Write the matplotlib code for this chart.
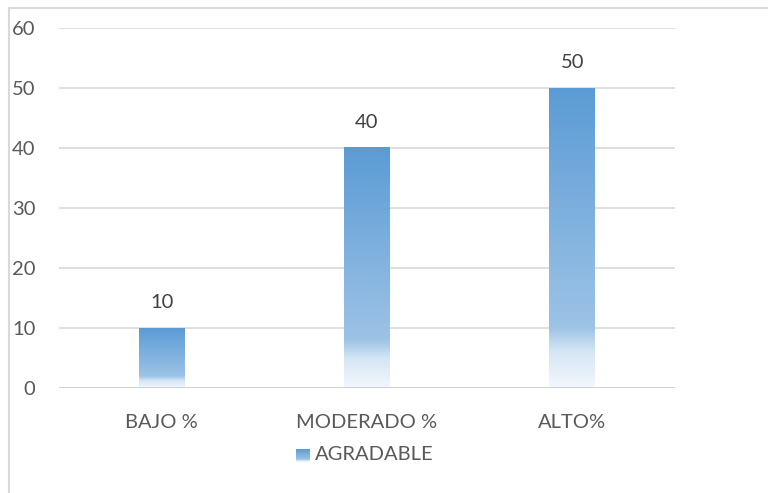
import numpy as np
import matplotlib
matplotlib.use("Agg")
import matplotlib.pyplot as plt
from matplotlib.colors import LinearSegmentedColormap
from matplotlib.patches import Rectangle

categories = ["BAJO %", "MODERADO %", "ALTO%"]
values = [10, 40, 50]
series_name = "AGRADABLE"
y_ticks = [0, 10, 20, 30, 40, 50, 60]

plt.rcParams["font.family"] = ["Lato", "DejaVu Sans"]
text_color = "#595959"

# excel-ish light gradient: blue at top fading to almost white at the base
grad = LinearSegmentedColormap.from_list(
    "bar_grad",
    [
        (0.0, "#f2f7fc"),
        (0.12, "#d6e6f5"),
        (0.20, "#9dc3e6"),
        (1.0, "#5b9bd5"),
    ],
)

fig = plt.figure(figsize=(7.68, 4.93), dpi=100)
ax = fig.add_axes([59 / 768, 1 - 388 / 493, 616 / 768, 360 / 493])

x = np.arange(len(categories))
bar_w = 0.224
gradient = np.linspace(0, 1, 256).reshape(-1, 1)

for xi, v in zip(x, values):
    ax.imshow(
        gradient,
        cmap=grad,
        origin="lower",
        aspect="auto",
        extent=(xi - bar_w / 2, xi + bar_w / 2, 0, v),
        zorder=3,
    )
    ax.text(
        xi, v + 4.2, str(v), ha="center", va="center",
        fontsize=14.5, color="#404040",
    )

ax.set_xlim(-0.5, len(categories) - 0.5)
ax.set_ylim(0, 60)
ax.set_yticks(y_ticks)
ax.set_xticks(x)
ax.set_xticklabels(categories)
ax.tick_params(length=0, labelsize=14.5, labelcolor=text_color)
ax.tick_params(axis="y", pad=17)
ax.tick_params(axis="x", pad=19)

ax.grid(axis="y", color="#d9d9d9", linewidth=1.2, zorder=0)
ax.set_axisbelow(True)
for name, spine in ax.spines.items():
    spine.set_visible(False)
ax.axhline(0, color="#d0d0d0", linewidth=1.4, zorder=4)

# legend: small gradient square plus label
leg_ax = fig.add_axes([296 / 768, 1 - 462 / 493, 14 / 768, 13 / 493])
leg_ax.imshow(gradient, cmap=grad, origin="lower", aspect="auto")
leg_ax.axis("off")
fig.text(315 / 768, 1 - 455 / 493, series_name, ha="left", va="center",
         fontsize=14.5, color=text_color)

# chart border
fig.patches.append(
    Rectangle((8.5 / 768, -0.1), 1.2, 1 - 7.5 / 493 + 0.1,
              transform=fig.transFigure, fill=False,
              edgecolor="#d9d9d9", linewidth=1.5)
)

fig.savefig("out.png", dpi=100)
